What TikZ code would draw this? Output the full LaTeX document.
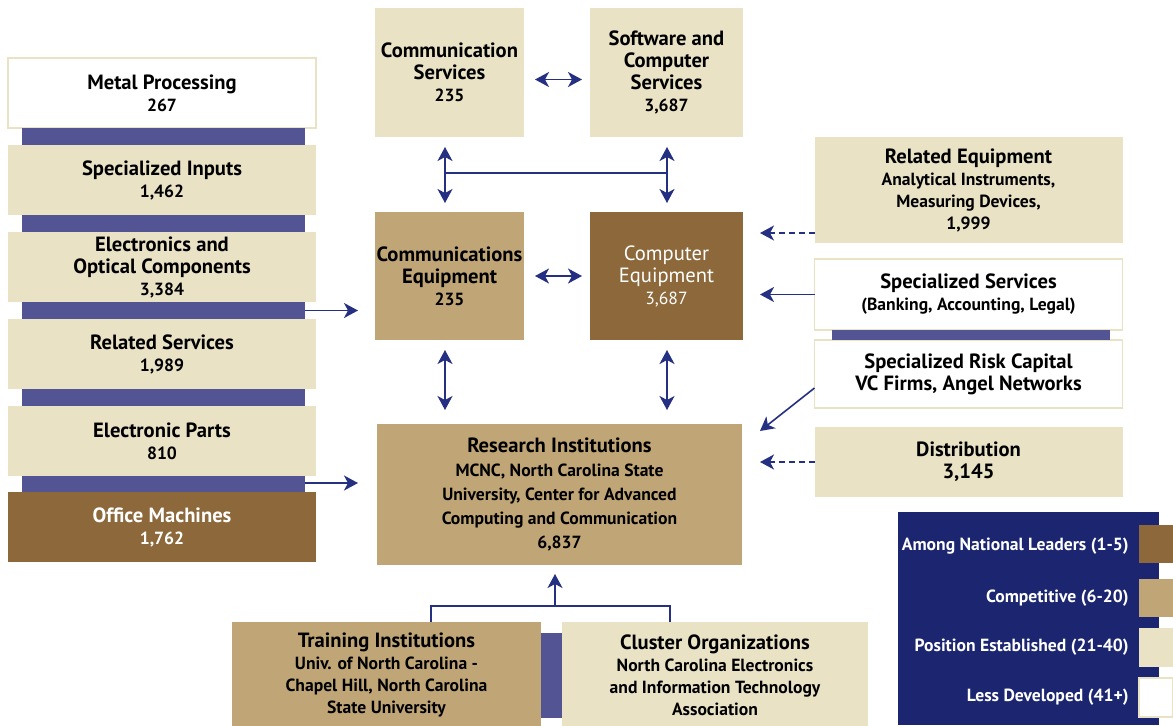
\documentclass[tikz,border=0pt]{standalone}
\usepackage{fontspec}
\setmainfont{PT Sans}
\usetikzlibrary{arrows.meta, positioning, calc}

\definecolor{leadbrown}{RGB}{140,104,58}
\definecolor{competan}{RGB}{192,166,118}
\definecolor{estabbeige}{RGB}{233,226,197}
\definecolor{barblue}{RGB}{82,84,148}
\definecolor{legendnavy}{RGB}{28,38,112}
\definecolor{arrownavy}{RGB}{38,48,130}

\newcommand\ttlfont{\fontsize{10.3}{11}\selectfont\bfseries}
\newcommand\subfont{\fontsize{8.8}{10}\selectfont\bfseries}

\tikzset{
  cell/.style={rectangle, inner sep=0pt, outer sep=0pt, align=center, font=\ttlfont, text=black},
  lead/.style={cell, fill=leadbrown, text=white},
  compet/.style={cell, fill=competan},
  estab/.style={cell, fill=estabbeige},
  less/.style={cell, fill=white, draw=estabbeige, line width=0.6pt},
  leftbox/.style={minimum width=154pt, minimum height=35pt},
  rightbox/.style={minimum width=154pt},
  bar/.style={fill=barblue},
  conn/.style={arrownavy, line width=0.8pt},
  arr/.style={conn, -{Stealth[length=7pt, width=7.5pt, inset=2pt]}},
  dbl/.style={conn, {Stealth[length=7pt, width=7.5pt, inset=2pt]}-{Stealth[length=7pt, width=7.5pt, inset=2pt]}},
  dasharr/.style={arr, dash pattern=on 3pt off 2pt},
  legtext/.style={anchor=east, inner sep=0pt, text=white, font=\subfont},
}

\begin{document}
\begin{tikzpicture}[x=0.5pt, y=-0.5pt]
  \fill[white] (0,0) rectangle (1173,725);
  \useasboundingbox (0,0) rectangle (1173,725);

  % left column
  \node[less, leftbox] (metal) at (162,93) {Metal Processing\\{\subfont 267}};
  \node[estab, leftbox, below=8.5pt of metal]  (inputs) {Specialized Inputs\\{\subfont 1,462}};
  \node[estab, leftbox, below=8.5pt of inputs] (optic)  {Electronics and\\Optical Components\\{\subfont 3,384}};
  \node[estab, leftbox, below=8.5pt of optic]  (relsvc) {Related Services\\{\subfont 1,989}};
  \node[estab, leftbox, below=8.5pt of relsvc] (parts)  {Electronic Parts\\{\subfont 810}};
  \node[lead, leftbox, below=8pt of parts]     (office) {Office Machines\\{\subfont 1,762}};

  \fill[bar] ($(metal.south west)+(14,0)$)  rectangle ($(inputs.north east)+(-11,0)$);
  \fill[bar] ($(inputs.south west)+(14,0)$) rectangle ($(optic.north east)+(-11,0)$);
  \fill[bar] ($(optic.south west)+(14,0)$)  rectangle ($(relsvc.north east)+(-11,0)$);
  \fill[bar] ($(relsvc.south west)+(14,0)$) rectangle ($(parts.north east)+(-11,0)$);
  \fill[bar] ($(parts.south west)+(14,0)$)  rectangle ($(office.north east)+(-11,0)$);

  % middle
  \node[estab, minimum width=74.5pt, minimum height=64.5pt] (comsvc) at (449.5,72.5) {Communication\\Services\\{\subfont 235}};
  \node[estab, minimum width=76.5pt, minimum height=64.5pt, right=33pt of comsvc] (softsvc) {Software and\\Computer\\Services\\{\subfont 3,687}};
  \node[compet, minimum width=74.5pt, minimum height=64pt, below=37.5pt of comsvc] (comequip) {Communications\\Equipment\\{\subfont 235}};
  \node[lead, minimum width=76.5pt, minimum height=64pt, below=37.5pt of softsvc, font=\fontsize{10.3}{11}\selectfont] (compequip) {Computer\\Equipment\\{\fontsize{8.8}{10}\selectfont 3,687}};
  \node[compet, minimum width=182.5pt, minimum height=70.5pt, font=\fontsize{10.3}{12}\selectfont\bfseries] (research) at (559.5,494.5)
    {Research Institutions\\{\subfont MCNC, North Carolina State}\\{\subfont University, Center for Advanced}\\{\subfont Computing and Communication}\\{\subfont 6,837}};

  % bottom
  \node[compet, minimum width=154.5pt, minimum height=53pt] (training) at (386.5,675)
    {Training Institutions\\{\subfont Univ. of North Carolina -}\\{\subfont Chapel Hill, North Carolina}\\{\subfont State University}};
  \node[estab, minimum width=153pt, minimum height=53pt, right=10.5pt of training] (cluster)
    {Cluster Organizations\\{\subfont North Carolina Electronics}\\{\subfont and Information Technology}\\{\subfont Association}};
  \fill[bar] ($(training.north east)+(0,11)$) rectangle ($(cluster.south west)+(0,-10)$);

  % right column
  \node[estab, rightbox, minimum height=53pt] (relequip) at (968.5,190)
    {Related Equipment\\{\subfont Analytical Instruments,}\\{\subfont Measuring Devices,}\\{\subfont 1,999}};
  \node[less, rightbox, minimum height=35.5pt, below=8pt of relequip] (specsvc) {Specialized Services\\{\subfont (Banking, Accounting, Legal)}};
  \node[less, rightbox, minimum height=34pt, below=5pt of specsvc] (riskcap) {Specialized Risk Capital\\VC Firms, Angel Networks};
  \node[estab, rightbox, minimum height=35pt, below=9.5pt of riskcap] (distrib) {Distribution\\3,145};
  \fill[bar] ($(specsvc.south west)+(17,0)$) rectangle ($(riskcap.north east)+(-13,0)$);

  % legend
  \node[cell, fill=legendnavy, minimum width=130.5pt, minimum height=106.5pt] (legend) at (1028.5,618.5) {};
  \node[lead, minimum width=17pt, minimum height=19pt] (sw1) at (1156,544) {};
  \node[compet, minimum width=17pt, minimum height=19pt] (sw2) at (1156,598) {};
  \node[estab, minimum width=17pt, minimum height=19.5pt] (sw3) at (1156,647.5) {};
  \node[less, minimum width=17pt, minimum height=19.5pt] (sw4) at (1156,697.5) {};
  \node[legtext] (lg1) at ($(sw1.west)+(-10,2)$) {Among National Leaders (1-5)};
  \node[legtext] (lg2) at ($(sw2.west)+(-10,0)$) {Competitive (6-20)};
  \node[legtext] (lg3) at ($(sw3.west)+(-10,0)$) {Position Established (21-40)};
  \node[legtext] (lg4) at ($(sw4.west)+(-10,0)$) {Less Developed (41+)};

  % connectors
  \draw[dbl] ($(comsvc.east)+(11,7)$) -- ($(softsvc.west)+(-8,7)$);
  \draw[dbl] ($(comequip.east)+(11,0)$) -- ($(compequip.west)+(-8,0)$);
  \draw[dbl] ($(comsvc.south)+(-4.5,10)$) -- ($(comequip.north)+(-4.5,-9)$);
  \draw[dbl] ($(softsvc.south)+(0.5,10)$) -- ($(compequip.north)+(0.5,-9)$);
  \coordinate (hubl) at ($(comsvc.south)+(-4.5,36)$);
  \coordinate (hubr) at ($(softsvc.south)+(0.5,36)$);
  \draw[conn] (hubl) -- (hubr);
  \draw[dbl] ($(comequip.south)+(-4.5,10)$) -- ($(comequip.south |- research.north)+(-4.5,-14)$);
  \draw[dbl] ($(compequip.south)+(0.5,10)$) -- ($(compequip.south |- research.north)+(0.5,-14)$);

  \draw[arr] ($(optic.south east)+(-11,8.5)$) -- ($(comequip.west |- optic.south)+(-17,8.5)$);
  \draw[arr] ($(parts.south east)+(-11,7)$) -- ($(research.west |- parts.south)+(-19,7)$);

  \draw[dasharr] ($(relequip.west)+(0,43)$) -- ($(compequip.east |- relequip.west)+(17,43)$);
  \draw[arr] (specsvc.west) -- ($(compequip.east |- specsvc.west)+(17,0)$);
  \draw[arr] ($(riskcap.west)+(0,14)$) -- ($(research.north east)+(18,7)$);
  \draw[dasharr] (distrib.west) -- ($(research.east |- distrib.west)+(18,0)$);

  \coordinate (join) at ($(research.south)+(-4.5,41)$);
  \draw[conn] ($(training.north)+(44.5,0)$) |- (join) -| ($(cluster.north)+(-45,0)$);
  \draw[arr] (join) -- ($(research.south)+(-4.5,9)$);
\end{tikzpicture}
\end{document}
